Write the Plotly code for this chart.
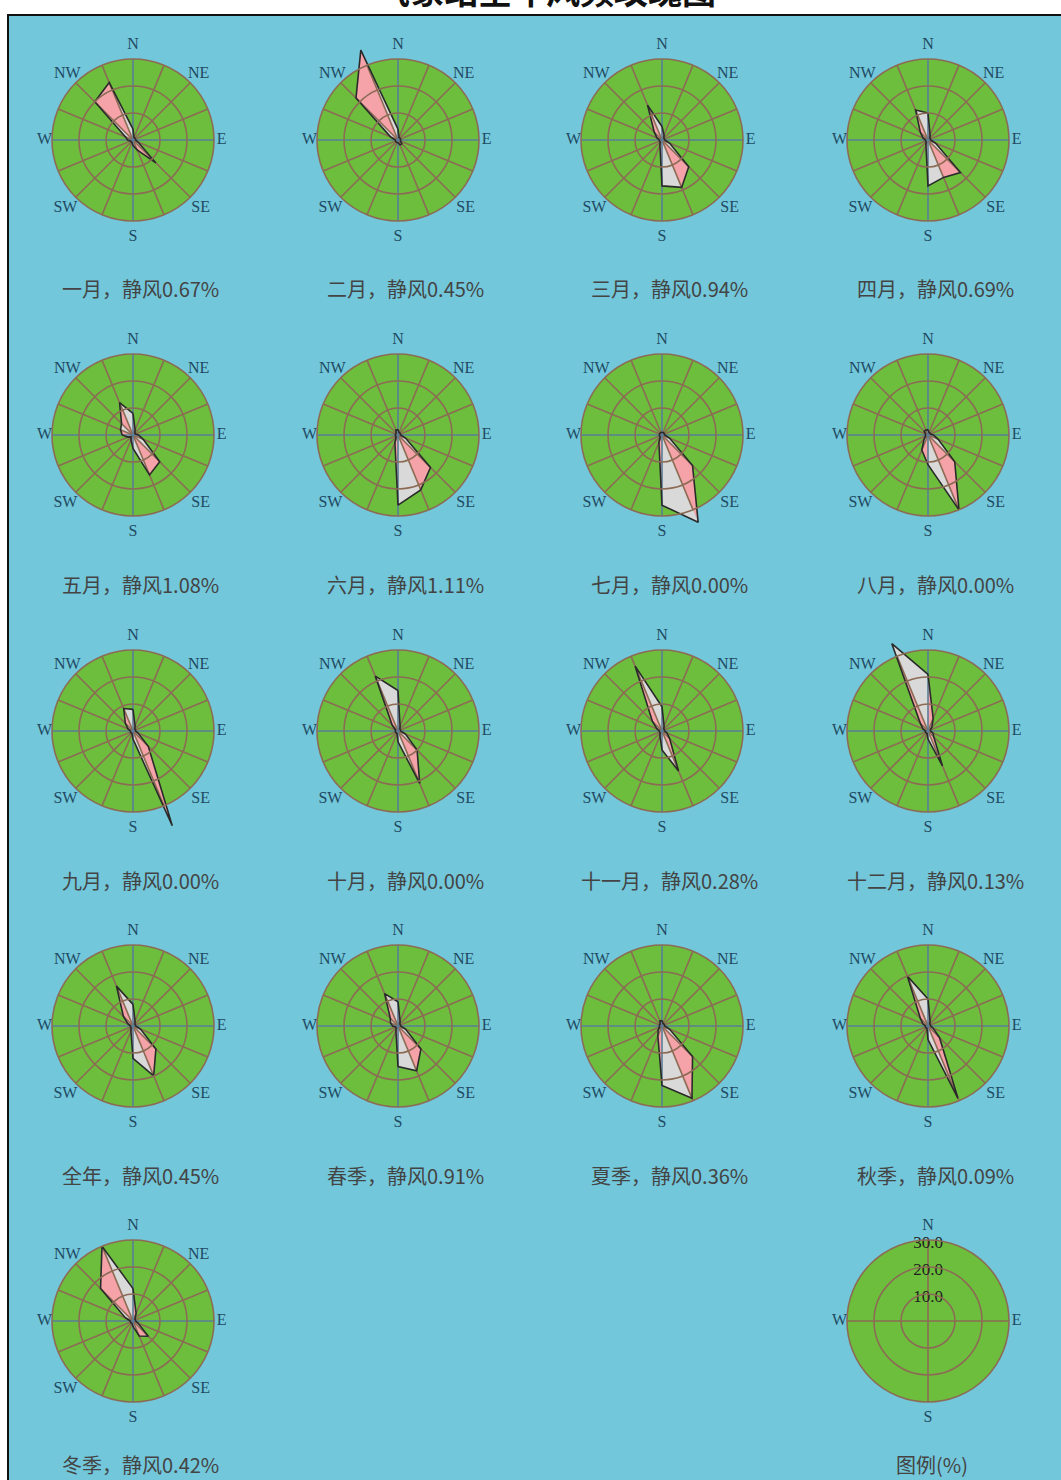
import plotly.graph_objects as go

# ---------------- data ----------------
directions = ["N", "NNE", "NE", "ENE", "E", "ESE", "SE", "SSE",
              "S", "SSW", "SW", "WSW", "W", "WNW", "NW", "NNW"]
dir_angles = [0, 22.5, 45, 67.5, 90, 112.5, 135, 157.5,
              180, 202.5, 225, 247.5, 270, 292.5, 315, 337.5]

jan = [4, 1, 1, 1, 1, 2, 12, 4, 2, 1, 1, 1, 2, 3, 20, 23]
feb = [4, 1, 1, 1, 1, 1, 2, 2, 1, 1, 1, 1, 1, 3, 22, 36]
mar = [5, 2, 1, 1, 1, 3, 14, 19, 17, 2, 1, 1, 1, 2, 4, 14]
apr = [10, 2, 1, 1, 1, 3, 17, 15, 17, 2, 1, 1, 1, 2, 4, 12]
may = [8, 2, 1, 1, 2, 4, 14, 16, 5, 2, 1, 2, 4, 5, 6, 13]
jun = [2, 1, 1, 1, 1, 3, 17, 22, 26, 3, 1, 1, 1, 1, 1, 2]
jul = [1, 1, 1, 1, 1, 3, 16, 35, 26, 3, 1, 1, 1, 1, 1, 1]
aug = [2, 1, 1, 1, 2, 4, 14, 30, 11, 6, 2, 1, 1, 1, 2, 2]
sep = [8, 2, 1, 1, 1, 2, 8, 38, 3, 1, 1, 1, 1, 2, 4, 9]
oct_ = [15, 2, 1, 1, 1, 3, 10, 21, 4, 1, 1, 1, 1, 1, 3, 22]
nov = [9, 2, 1, 1, 1, 2, 4, 16, 7, 2, 1, 1, 1, 2, 5, 26]
dec = [21, 5, 2, 1, 1, 2, 3, 14, 3, 1, 1, 1, 1, 2, 4, 35]
year = [8, 2, 1, 1, 1, 3, 12, 20, 12, 2, 1, 1, 1, 2, 5, 16]
spring = [9, 2, 1, 1, 1, 3, 12, 18, 15, 2, 1, 1, 2, 3, 4, 13]
summer = [2, 1, 1, 1, 1, 3, 16, 29, 22, 4, 2, 1, 1, 1, 1, 2]
autumn = [10, 2, 1, 1, 1, 2, 6, 29, 5, 1, 1, 1, 1, 2, 4, 20]
winter = [12, 3, 1, 1, 1, 2, 8, 6, 2, 1, 1, 1, 1, 3, 17, 30]

rose_series = [jan, feb, mar, apr, may, jun, jul, aug, sep, oct_, nov, dec,
               year, spring, summer, autumn, winter]
rose_names = ["一月", "二月", "三月", "四月", "五月", "六月", "七月", "八月",
              "九月", "十月", "十一月", "十二月", "全年", "春季", "夏季", "秋季", "冬季"]
calm_pct = [0.67, 0.45, 0.94, 0.69, 1.08, 1.11, 0.00, 0.00, 0.00, 0.00, 0.28, 0.13,
            0.45, 0.91, 0.36, 0.09, 0.42]

compass_labels = ["N", "NE", "E", "SE", "S", "SW", "W", "NW"]
compass_angles = [0, 45, 90, 135, 180, 225, 270, 315]
legend_rings = [10, 20, 30]
legend_labels = ["10.0", "20.0", "30.0"]
legend_dirs = ["N", "E", "S", "W"]
legend_title = "图例(%)"
chart_title = "气象站全年风频玫瑰图"

# ---------------- styling / layout constants ----------------
W, H = 1061, 1480
COL_X = [133, 398, 662, 928]
ROW_Y = [140, 435, 731, 1026, 1321]
CAP_DY = [149, 149, 149, 149, 143]   # caption offset below each row's centre
R_PX_30 = 81.0          # pixel radius of the 30% ring
R_MAX = 40.0            # radial range so long petals are not clipped
HALF = R_PX_30 * R_MAX / 30.0

BG = "#72C7DB"
DISC = "#6DBE3C"
GRID = "#8C6B55"
GRID_AXIS = "#5A7E98"
PINK = "#F5A3A8"
GREY = "#D9D9D9"
OUTLINE = "#2A2A2A"
LABEL_C = "#1F4A62"
CAP_C = "#444444"
SERIF = "Liberation Serif"
CJK = "Noto Sans CJK SC"

label_radius = {"N": 35.2, "NE": 34.4, "E": 32.8, "SE": 35.4,
                "S": 36.0, "SW": 35.4, "W": 32.8, "NW": 34.4}

fig = go.Figure()
layout_polars = {}
annotations = []
shapes = [dict(type="rect", xref="paper", yref="paper",
               x0=8 / W, x1=1 + 10 / W, y0=-10 / H, y1=1 - 15 / H,
               fillcolor=BG, line=dict(color="#111111", width=2), layer="below")]


def polar_name(i):
    return "polar" if i == 1 else f"polar{i}"


def circle(cx, cy, rpx, **kw):
    return dict(type="circle", xref="paper", yref="paper",
                x0=(cx - rpx) / W, x1=(cx + rpx) / W,
                y0=1 - (cy + rpx) / H, y1=1 - (cy - rpx) / H, **kw)


def add_polar(i, cx, cy):
    layout_polars[polar_name(i)] = dict(
        domain=dict(x=[(cx - HALF) / W, (cx + HALF) / W],
                    y=[1 - (cy + HALF) / H, 1 - (cy - HALF) / H]),
        bgcolor="rgba(0,0,0,0)",
        radialaxis=dict(range=[0, R_MAX], showgrid=False, showticklabels=False,
                        ticks="", showline=False),
        angularaxis=dict(rotation=90, direction="clockwise", showgrid=False,
                         showticklabels=False, ticks="", showline=False),
    )
    # green disc below, grid rings above the petals
    shapes.append(circle(cx, cy, R_PX_30, fillcolor=DISC, line=dict(width=0), layer="below"))
    for ring in legend_rings:
        shapes.append(circle(cx, cy, R_PX_30 * ring / legend_rings[-1],
                             line=dict(color=GRID, width=1.6), layer="above"))


def add_spokes(sub, angles, color):
    rr, tt = [], []
    for a in angles:
        rr += [0, legend_rings[-1], None]
        tt += [a, a, None]
    fig.add_trace(go.Scatterpolar(r=rr, theta=tt, mode="lines",
                                  line=dict(color=color, width=1.6),
                                  subplot=sub, hoverinfo="skip", showlegend=False))


for k, vals in enumerate(rose_series):
    row, col = divmod(k, 4)
    cx, cy = COL_X[col], ROW_Y[row]
    sub = polar_name(k + 1)
    add_polar(k + 1, cx, cy)

    # alternating triangular sectors (pink / grey)
    for parity, color in ((0, PINK), (1, GREY)):
        rr, tt = [], []
        n = len(vals)
        for i in range(parity, n, 2):
            j = (i + 1) % n
            rr += [0, vals[i], vals[j], 0, None]
            tt += [dir_angles[i], dir_angles[i], dir_angles[j], dir_angles[i], None]
        fig.add_trace(go.Scatterpolar(r=rr, theta=tt, mode="lines", fill="toself",
                                      fillcolor=color, line=dict(width=0, color=color),
                                      subplot=sub, hoverinfo="skip", showlegend=False))

    other = [a for a in dir_angles if a % 90 != 0]
    add_spokes(sub, other, GRID)
    add_spokes(sub, [0, 90, 180, 270], GRID_AXIS)

    # outline
    fig.add_trace(go.Scatterpolar(r=vals + [vals[0]], theta=dir_angles + [dir_angles[0]],
                                  mode="lines", line=dict(color=OUTLINE, width=1.6),
                                  subplot=sub, hoverinfo="skip", showlegend=False))
    # compass labels
    fig.add_trace(go.Scatterpolar(r=[label_radius[c] for c in compass_labels],
                                  theta=compass_angles, mode="text", text=compass_labels,
                                  textposition="middle center",
                                  textfont=dict(family=SERIF, size=16, color=LABEL_C),
                                  subplot=sub, hoverinfo="skip", showlegend=False))
    annotations.append(dict(
        x=(cx + 7) / W, y=1 - (cy + CAP_DY[row]) / H, xref="paper", yref="paper",
        text=f"{rose_names[k]}，静风{calm_pct[k]:.2f}%", showarrow=False,
        xanchor="center", yanchor="middle",
        font=dict(family=CJK, size=20, color=CAP_C)))

# ---------------- legend rose ----------------
cx, cy = COL_X[3], ROW_Y[4]
lid = len(rose_series) + 1
sub = polar_name(lid)
add_polar(lid, cx, cy)
add_spokes(sub, [0, 90, 180, 270], GRID)
fig.add_trace(go.Scatterpolar(r=[v - 1.4 for v in legend_rings], theta=[0, 0, 0],
                              mode="text", text=legend_labels, textposition="middle center",
                              textfont=dict(family=SERIF, size=17, color="#202020"),
                              subplot=sub, hoverinfo="skip", showlegend=False))
fig.add_trace(go.Scatterpolar(r=[label_radius[c] for c in legend_dirs],
                              theta=[0, 90, 180, 270], mode="text", text=legend_dirs,
                              textposition="middle center",
                              textfont=dict(family=SERIF, size=16, color=LABEL_C),
                              subplot=sub, hoverinfo="skip", showlegend=False))
annotations.append(dict(
    x=(cx + 4) / W, y=1 - (cy + CAP_DY[4]) / H, xref="paper", yref="paper",
    text=legend_title, showarrow=False, xanchor="center", yanchor="middle",
    font=dict(family=CJK, size=20, color=CAP_C)))

# title (partly cut off at the top edge, as in the source)
annotations.append(dict(
    x=546 / W, y=1 + 11 / H, xref="paper", yref="paper", text=f"<b>{chart_title}</b>",
    showarrow=False, xanchor="center", yanchor="middle",
    font=dict(family=CJK, size=34, color="#111111")))

fig.update_layout(
    width=W, height=H, margin=dict(l=0, r=0, t=0, b=0),
    paper_bgcolor="white", plot_bgcolor="white", showlegend=False,
    annotations=annotations, shapes=shapes,
    **layout_polars,
)

fig.write_html("out.html", config={"displayModeBar": False},
               post_script="document.body.style.margin='0';document.body.style.overflow='hidden';")
